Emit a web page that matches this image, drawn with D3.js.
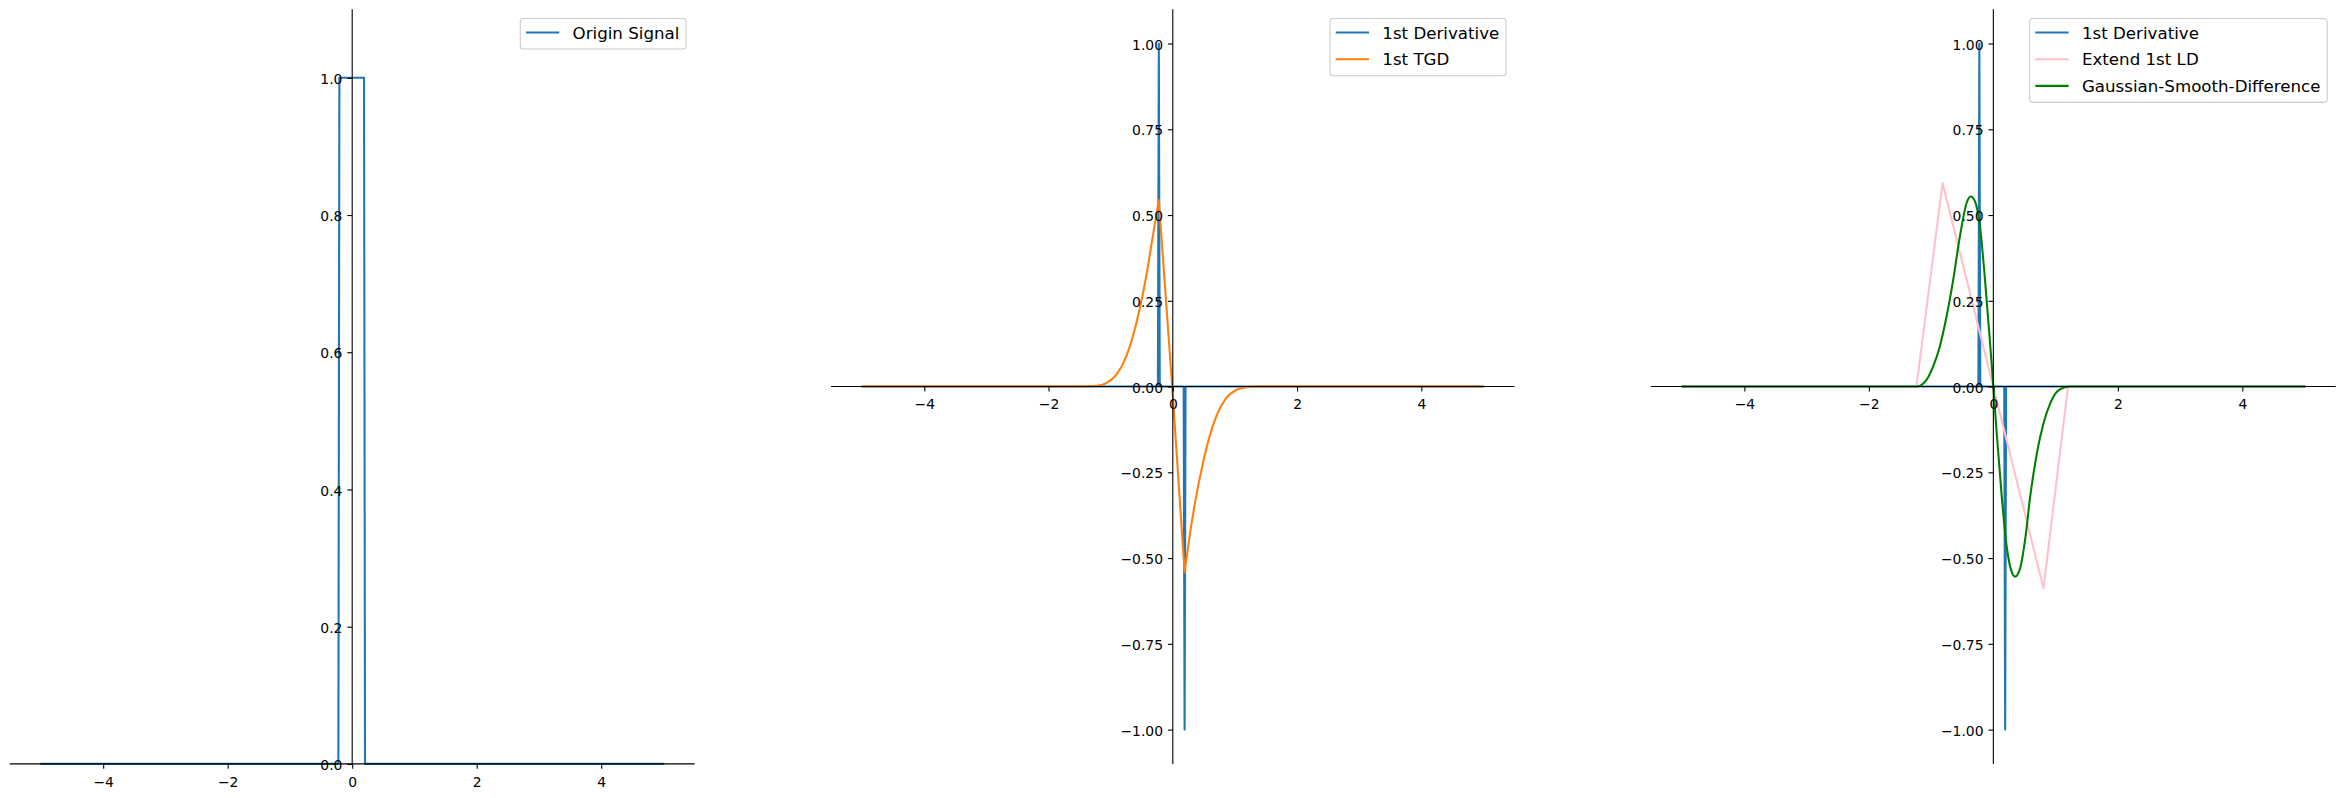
<!DOCTYPE html>
<html>
<head>
<meta charset="utf-8">
<script src="https://d3js.org/d3.v7.min.js"></script>
<style>
  body { margin: 0; background: #fff; }
  svg { display: block; font-family: "DejaVu Sans", sans-serif; }
</style>
</head>
<body>
<div id="chart"></div>
<script>
// ---- data ----
const xTicks = [-4, -2, 0, 2, 4];
const yTicksSignal = [0, 0.2, 0.4, 0.6, 0.8, 1.0];
const yTicksDeriv = [-1, -0.75, -0.5, -0.25, 0, 0.25, 0.5, 0.75, 1];

// origin signal : rectangular pulse
const originX = [-5, -0.222, -0.206, 0.19, 0.206, 5];
const originY = [0, 0, 1, 1, 0, 0];

// 1st derivative : two one-sample spikes
const derivX = [-5, -0.24, -0.225, -0.21, 0.175, 0.19, 0.205, 5];
const derivY = [0, 0, 1, 0, 0, -1, 0, 0];

// 1st TGD (smooth flanks, straight segment between peak and trough)
const tgdX = [-5, -1.5, -1.23, -1.07, -0.91, -0.75, -0.644, -0.536, -0.428, -0.322, -0.225,
  -0.01, 0.19, 0.269, 0.376, 0.484, 0.591, 0.698, 0.859, 1.02, 1.18, 1.34, 5];
const tgdY = [0, 0, 0.002, 0.01, 0.034, 0.0875, 0.146, 0.224, 0.321, 0.438, 0.543,
  0, -0.541, -0.438, -0.321, -0.224, -0.146, -0.0875, -0.034, -0.01, -0.002, 0, 0];

// extend 1st LD
const ldX = [-5, -1.235, -0.816, 0.806, 1.2, 5];
const ldY = [0, 0, 0.593, -0.588, 0, 0];

// gaussian-smooth-difference
const gsdX = [-5, -1.235, -1.074, -0.968, -0.86, -0.752, -0.645, -0.537, -0.43, -0.365, -0.295,
  -0.215, -0.134, -0.053, 0, 0.054, 0.135, 0.215, 0.285, 0.35, 0.43, 0.51, 0.592, 0.7,
  0.806, 0.914, 1.02, 1.156, 1.237, 5];
const gsdY = [0, 0, 0.0195, 0.058, 0.117, 0.204, 0.311, 0.438, 0.535, 0.554, 0.54,
  0.467, 0.311, 0.127, 0, -0.136, -0.321, -0.467, -0.535, -0.554, -0.53, -0.447, -0.321, -0.194,
  -0.107, -0.049, -0.015, -0.002, 0, 0];

const blue = "#1f77b4", orange = "#ff7f0e";

function zip(xs, ys) {
  return xs.map((x, i) => [x, ys[i]]);
}

const W = 2345, H = 798;
const svg = d3.select("#chart").append("svg")
  .attr("width", W).attr("height", H);

const lin = d3.curveLinear, smooth = d3.curveMonotoneX;

// pieces: [from index, to index, curve]
const panels = [
  {
    left: 9.8, right: 694.6, yDomain: [0, 1.1], yTicks: yTicksSignal, yFmt: d3.format(".1f"),
    series: [{ name: "Origin Signal", color: blue, data: zip(originX, originY) }]
  },
  {
    left: 831.1, right: 1514.5, yDomain: [-1.1, 1.1], yTicks: yTicksDeriv, yFmt: d3.format(".2f"),
    series: [
      { name: "1st Derivative", color: blue, data: zip(derivX, derivY) },
      { name: "1st TGD", color: orange, data: zip(tgdX, tgdY),
        pieces: [[0, 10, smooth], [10, 12, lin], [12, tgdX.length - 1, smooth]] }
    ]
  },
  {
    left: 1651, right: 2335.7, yDomain: [-1.1, 1.1], yTicks: yTicksDeriv, yFmt: d3.format(".2f"),
    series: [
      { name: "1st Derivative", color: blue, data: zip(derivX, derivY) },
      { name: "Extend 1st LD", color: "pink", data: zip(ldX, ldY) },
      { name: "Gaussian-Smooth-Difference", color: "green", data: zip(gsdX, gsdY),
        pieces: [[0, gsdX.length - 1, smooth]] }
    ]
  }
];

const axTop = 9.2, axBottom = 763.9;

panels.forEach(p => {
  const x = d3.scaleLinear().domain([-5.5, 5.5]).range([p.left, p.right]);
  const y = d3.scaleLinear().domain(p.yDomain).range([axBottom, axTop]);
  const g = svg.append("g");

  // lines first, spines drawn on top
  p.series.forEach(s => {
    const pieces = s.pieces || [[0, s.data.length - 1, lin]];
    const d = pieces.map(([a, b, curve]) =>
      d3.line().curve(curve).x(v => x(v[0])).y(v => y(v[1]))(s.data.slice(a, b + 1))
    ).join("");
    g.append("path")
      .attr("fill", "none")
      .attr("stroke", s.color)
      .attr("stroke-width", 2.08)
      .attr("stroke-linejoin", "round")
      .attr("stroke-linecap", "round")
      .attr("d", d);
  });

  // x axis sits at y = 0, y axis at x = 0
  const xAxis = d3.axisBottom(x).tickValues(xTicks)
    .tickFormat(d3.format("d")).tickSize(4.9).tickPadding(4.9);
  const gx = g.append("g")
    .attr("transform", `translate(0,${y(0)})`)
    .call(xAxis);
  gx.select(".domain").attr("d", `M${p.left},0H${p.right}`);

  const yAxis = d3.axisLeft(y).tickValues(p.yTicks)
    .tickFormat(p.yFmt).tickSize(4.9).tickPadding(4.9);
  const gy = g.append("g")
    .attr("transform", `translate(${x(0)},0)`)
    .call(yAxis);
  gy.select(".domain").attr("d", `M0,${axTop}V${axBottom}`);

  [gx, gy].forEach(a => {
    a.attr("font-family", "DejaVu Sans").attr("font-size", 13.9);
    a.selectAll("path, line").attr("stroke", "#000").attr("stroke-width", 1.1);
    a.selectAll("text").attr("fill", "#000");
  });
  gx.selectAll(".tick text").attr("dy", null).attr("y", 22.7);
  gy.selectAll(".tick text").attr("dy", null).attr("y", 5.6);

  // legend, upper right
  const fs = 16.67;
  const leg = g.append("g").attr("font-size", fs).attr("font-family", "DejaVu Sans");
  const legTop = axTop + 9.3;
  const texts = p.series.map((s, i) =>
    leg.append("text").attr("fill", "#000").attr("y", legTop + 14 + i * 26.7 + 6).text(s.name));
  const maxW = d3.max(texts, t => t.node().getComputedTextLength());
  const boxRight = p.right - 8.5;
  const textX = boxRight - 6.7 - maxW;
  const handleEnd = textX - 13.3, handleStart = handleEnd - 33.3;
  const boxLeft = handleStart - 5.7;
  const boxH = 30.5 + 26.7 * (p.series.length - 1);
  leg.insert("rect", "text")
    .attr("x", boxLeft).attr("y", legTop)
    .attr("width", boxRight - boxLeft).attr("height", boxH)
    .attr("rx", 3.3)
    .attr("fill", "#fff").attr("fill-opacity", 0.8)
    .attr("stroke", "#cccccc").attr("stroke-width", 1.1);
  texts.forEach(t => t.attr("x", textX));
  p.series.forEach((s, i) => {
    leg.append("line")
      .attr("x1", handleStart).attr("x2", handleEnd)
      .attr("y1", legTop + 14 + i * 26.7).attr("y2", legTop + 14 + i * 26.7)
      .attr("stroke", s.color).attr("stroke-width", 2.08);
  });
});
</script>
</body>
</html>
